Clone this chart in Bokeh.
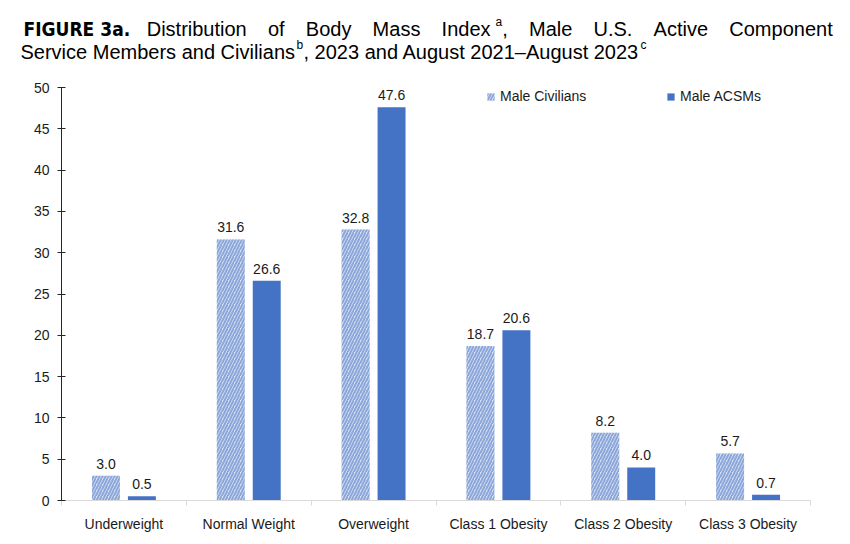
from bokeh.plotting import figure
from bokeh.layouts import column
from bokeh.models import Legend, LegendItem, FixedTicker, Range1d, ColumnDataSource
from bokeh.core.properties import value
from bokeh.embed import file_html
from bokeh.resources import INLINE

categories = ["Underweight", "Normal Weight", "Overweight", "Class 1 Obesity", "Class 2 Obesity", "Class 3 Obesity"]
civilians = [3.0, 31.6, 32.8, 18.7, 8.2, 5.7]
acsms = [0.5, 26.6, 47.6, 20.6, 4.0, 0.7]
y_ticks = [0, 5, 10, 15, 20, 25, 30, 35, 40, 45, 50]
series_names = ["Male Civilians", "Male ACSMs"]

FONT = "Liberation Sans"
BLUE = "#4472C4"
OFF = 0.144
BW = 0.224

W = 842
TH = 70            # title strip height
CH = 536 - TH      # chart height
ML, MR, MT, MB = 61, 32, 87 - TH, 36

# ---------------- title strip ----------------
# (frames of plots in a column are aligned, so this frame spans page x 61..810)
t = figure(width=W, height=TH, output_backend="svg", toolbar_location=None, tools="",
           x_range=Range1d(ML, W - MR), y_range=Range1d(TH, 0),
           x_axis_type=None, y_axis_type=None,
           min_border_left=ML, min_border_right=MR, min_border_top=0, min_border_bottom=0)
t.outline_line_color = None
t.grid.visible = False
t.background_fill_color = "white"
t.border_fill_color = "white"

t.text(x=[23], y=[28], text=["FIGURE 3a."], text_baseline="alphabetic",
       text_font=value("Liberation Sans Narrow, DejaVu Sans Condensed"), text_font_style="bold",
       text_font_size="19px", text_color="#000000", level="overlay")

title_words = ["Distribution", "of", "Body", "Mass", "Index", ",", "Male", "U.S.", "Active", "Component",
               "Service Members and Civilians", ", 2023 and August 2021\u2013August 2023"]
title_x = [146.2, 267.4, 305.3, 372.1, 441.1, 501.7, 528.5, 593.0, 653.1, 728.8, 20, 303]
title_y = [28] * 10 + [51.5, 51.5]
t.text(x=title_x, y=title_y, text=title_words, text_baseline="alphabetic",
       text_font=value(FONT), text_font_size="20px", text_color="#000000", level="overlay")
t.text(x=[495, 296, 640], y=[21, 44.5, 44.5], text=["a", "b", "c"], text_baseline="alphabetic",
       text_font=value(FONT), text_font_size="12px", text_color="#000000", level="overlay")

# ---------------- chart ----------------
p = figure(width=W, height=CH, output_backend="svg", toolbar_location=None, tools="",
           x_range=Range1d(0, len(categories)), y_range=Range1d(0, 50),
           min_border_left=ML, min_border_right=MR, min_border_top=MT, min_border_bottom=MB)
p.outline_line_color = None
p.grid.visible = False
p.background_fill_color = "white"
p.border_fill_color = "white"

centers = [i + 0.5 for i in range(len(categories))]
src = ColumnDataSource(dict(
    xc=[c - OFF for c in centers], xa=[c + OFF for c in centers],
    civ=civilians, acs=acsms,
    civ_t=[f"{v:.1f}" for v in civilians], acs_t=[f"{v:.1f}" for v in acsms]))

r_civ = p.vbar(x="xc", top="civ", width=BW, source=src, fill_color="#dce5f5",
               line_color=None, hatch_pattern="/", hatch_color="#8aa6db",
               hatch_scale=6, hatch_weight=2)
r_acs = p.vbar(x="xa", top="acs", width=BW, source=src, fill_color=BLUE, line_color=None)

for xcol, ycol, tcol in (("xc", "civ", "civ_t"), ("xa", "acs", "acs_t")):
    p.text(x=xcol, y=ycol, text=tcol, source=src, text_align="center", text_baseline="alphabetic",
           y_offset=-12, text_font=value(FONT), text_font_size="14px", text_color="#1a1a1a")

xa = p.xaxis[0]
xa.ticker = FixedTicker(ticks=centers, minor_ticks=list(range(len(categories) + 1)))
xa.major_label_overrides = {c: n for c, n in zip(centers, categories)}
xa.major_tick_line_color = None
xa.major_tick_in = 0
xa.major_tick_out = 0
xa.minor_tick_in = 0
xa.minor_tick_out = 5
xa.minor_tick_line_color = "#d9d9d9"
xa.axis_line_color = "#d9d9d9"
xa.major_label_text_font = FONT
xa.major_label_text_font_size = "14px"
xa.major_label_text_color = "#1a1a1a"
xa.major_label_standoff = 10

ya = p.yaxis[0]
ya.ticker = FixedTicker(ticks=y_ticks, minor_ticks=[])
ya.axis_line_color = "#262626"
ya.major_tick_line_color = "#262626"
ya.major_tick_in = 4
ya.major_tick_out = 4
ya.minor_tick_line_color = None
ya.major_label_text_font = FONT
ya.major_label_text_font_size = "14px"
ya.major_label_text_color = "#1a1a1a"
ya.major_label_standoff = 8

legend = Legend(items=[LegendItem(label=series_names[0], renderers=[r_civ]),
                       LegendItem(label=series_names[1], renderers=[r_acs])],
                orientation="horizontal", location=(486 - ML, CH - MB - (106 - TH)),
                border_line_color=None, background_fill_alpha=0, padding=0, margin=0,
                glyph_width=9, glyph_height=9, label_standoff=5, spacing=66,
                label_width=100, label_height=20,
                label_text_font=FONT, label_text_font_size="14px", label_text_color="#1a1a1a")
p.add_layout(legend)

layout = column(t, p, spacing=0)
open("out.html", "w").write(file_html(layout, INLINE))
